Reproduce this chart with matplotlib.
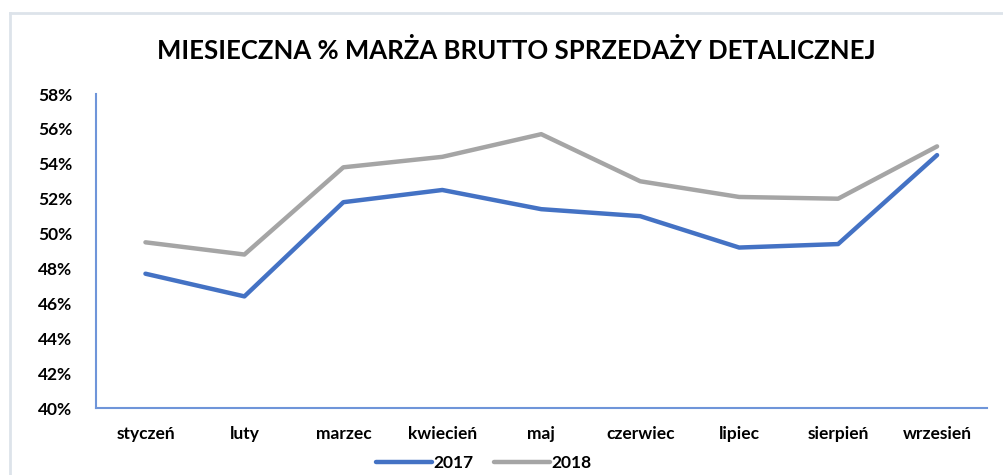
import numpy as np
import matplotlib.pyplot as plt
from matplotlib.lines import Line2D
from matplotlib.ticker import FuncFormatter

plt.rcParams['font.family'] = ['Lato', 'DejaVu Sans']

# data
months = ["styczeń", "luty", "marzec", "kwiecień", "maj",
          "czerwiec", "lipiec", "sierpień", "wrzesień"]
y2017 = [47.7, 46.4, 51.8, 52.5, 51.4, 51.0, 49.2, 49.4, 54.5]
y2018 = [49.5, 48.8, 53.8, 54.4, 55.7, 53.0, 52.1, 52.0, 55.0]
yticks = [40, 42, 44, 46, 48, 50, 52, 54, 56, 58]

blue = "#4472C4"
gray = "#A5A5A5"
axis_col = "#6F95D9"

fig = plt.figure(figsize=(10.04, 4.75), dpi=100)
ax = fig.add_axes([0.0956, 0.141, 0.887, 0.661])

x = np.arange(len(months))
ax.plot(x, y2017, color=blue, lw=3.2, solid_capstyle="round", label="2017")
ax.plot(x, y2018, color=gray, lw=3.2, solid_capstyle="round", label="2018")

ax.set_xlim(-0.5, len(months) - 0.5)
ax.set_ylim(40, 58)
ax.set_yticks(yticks)
ax.yaxis.set_major_formatter(FuncFormatter(lambda v, p: f"{v:.0f}%"))
ax.set_xticks(x)
ax.set_xticklabels(months)
ax.tick_params(length=0, labelsize=12.5, colors="black")
ax.tick_params(axis="y", pad=17)
ax.tick_params(axis="x", pad=13)
for lab in ax.get_xticklabels() + ax.get_yticklabels():
    lab.set_fontweight("bold")

for s in ["top", "right"]:
    ax.spines[s].set_visible(False)
for s in ["left", "bottom"]:
    ax.spines[s].set_color(axis_col)
    ax.spines[s].set_linewidth(1.5)

fig.text(0.514, 0.893, "MIESIECZNA % MARŻA BRUTTO SPRZEDAŻY DETALICZNEJ",
         ha="center", va="center", fontsize=18.5, fontweight="bold")

handles = [Line2D([], [], color=blue, lw=3.2, solid_capstyle="round"),
           Line2D([], [], color=gray, lw=3.2, solid_capstyle="round")]
fig.legend(handles, ["2017", "2018"], loc="center", bbox_to_anchor=(0.482, 0.025),
           ncol=2, frameon=False, handlelength=3.2, handletextpad=0.1,
           columnspacing=1.2, prop={"weight": "bold", "size": 12.5})

# light frame (top + left edges only visible)
fig.add_artist(Line2D([0.010, 1.0], [0.972, 0.972], transform=fig.transFigure,
                      color="#DDE3EA", lw=2))
fig.add_artist(Line2D([0.010, 0.010], [0.0, 0.972], transform=fig.transFigure,
                      color="#DDE3EA", lw=2))

fig.savefig("out.png", dpi=100)
